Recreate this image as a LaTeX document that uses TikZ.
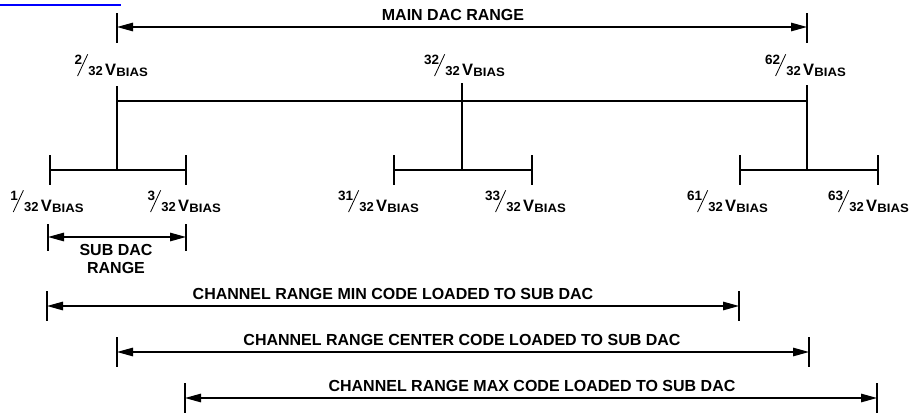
\documentclass[tikz,border=0pt]{standalone}
\usepackage{fontspec}
\setmainfont{Liberation Sans}
\usetikzlibrary{arrows.meta}
\newcommand{\fracslash}{\raisebox{-1.2pt}{\rotatebox{65}{\rule{24pt}{0.8pt}}}}
\newcommand{\vlab}[2]{%
  \kern5pt\llap{\raisebox{10.5pt}{\fontsize{13.5}{12}\selectfont #1}}\kern-5pt%
  \fracslash\kern0.3pt{\fontsize{13}{12}\selectfont #2}\kern2.4pt%
  {\fontsize{16.5}{16}\selectfont V}\kern0.2pt%
  \raisebox{-1.8pt}{\scalebox{1.08}[1]{\fontsize{12.2}{12}\selectfont BIAS}}}
\begin{document}
\begin{tikzpicture}[x=1pt,y=-1pt,
  ln/.style={line width=1.3pt},
  dimarrow/.style={line width=1.3pt,{Triangle[length=16pt,width=8.5pt]}-{Triangle[length=16pt,width=8.5pt]}},
  captxt/.style={font=\bfseries\fontsize{16}{18}\selectfont,inner sep=0pt},
  vl/.style={font=\bfseries,inner sep=0pt,anchor=base west}]
\useasboundingbox (0,0) rectangle (911,415);
% hyperlink underline
\coordinate (bl1) at (0,4.5); \coordinate (bl2) at (121,4.5);
\draw[blue,line width=2pt] (bl1) -- (bl2);
% main DAC range
\coordinate (mLt) at (117,13); \coordinate (mLb) at (117,43);
\coordinate (mRt) at (807,13); \coordinate (mRb) at (807,43);
\coordinate (mL) at (117,27); \coordinate (mR) at (807,27);
\draw[ln] (mLt) -- (mLb); \draw[ln] (mRt) -- (mRb);
\draw[dimarrow] (mL) -- (mR);
\node[captxt] (mainlbl) at (453,15) {MAIN DAC RANGE};
% top labels
\node[vl] (t2) at (77,75) {\vlab{2}{32}};
\node[vl] (t32) at (434,75) {\vlab{32}{32}};
\node[vl] (t62) at (775,75) {\vlab{62}{32}};
% tree
\coordinate (aT) at (117,86); \coordinate (aB) at (117,170);
\coordinate (bT) at (462,83); \coordinate (bB) at (462,170);
\coordinate (cT) at (807,85); \coordinate (cB) at (807,170);
\coordinate (hL) at (117,101); \coordinate (hR) at (807,101);
\draw[ln] (aT) -- (aB); \draw[ln] (bT) -- (bB); \draw[ln] (cT) -- (cB);
\draw[ln] (hL) -- (hR);
% sub brackets
\foreach \l/\r/\n in {50/186/a,394/532/b,740/878/c}{
  \coordinate (\n l) at (\l,170); \coordinate (\n r) at (\r,170);
  \coordinate (\n lt) at (\l,155); \coordinate (\n lb) at (\l,185);
  \coordinate (\n rt) at (\r,155); \coordinate (\n rb) at (\r,185);
  \draw[ln] (\n l) -- (\n r);
  \draw[ln] (\n lt) -- (\n lb);
  \draw[ln] (\n rt) -- (\n rb);
}
% sub labels
\node[vl] (s1) at (12.7,211) {\vlab{1}{32}};
\node[vl] (s3) at (150,211) {\vlab{3}{32}};
\node[vl] (s31) at (348,211) {\vlab{31}{32}};
\node[vl] (s33) at (495,211) {\vlab{33}{32}};
\node[vl] (s61) at (697,211) {\vlab{61}{32}};
\node[vl] (s63) at (838,211) {\vlab{63}{32}};
% sub DAC range
\coordinate (sdLt) at (48,224); \coordinate (sdLb) at (48,251);
\coordinate (sdRt) at (186,224); \coordinate (sdRb) at (186,251);
\coordinate (sdL) at (48,237); \coordinate (sdR) at (186,237);
\draw[ln] (sdLt) -- (sdLb); \draw[ln] (sdRt) -- (sdRb);
\draw[dimarrow] (sdL) -- (sdR);
\node[captxt,align=center] (sublbl) at (116,259) {SUB DAC\\RANGE};
% channel ranges
\foreach \l/\r/\y/\tx/\n/\t in {
  47/739/306/393/mn/{CHANNEL RANGE MIN CODE LOADED TO SUB DAC},
  117/809/352/462/ct/{CHANNEL RANGE CENTER CODE LOADED TO SUB DAC},
  185/877/398/532/mx/{CHANNEL RANGE MAX CODE LOADED TO SUB DAC}}{
  \coordinate (\n L) at (\l,\y); \coordinate (\n R) at (\r,\y);
  \coordinate (\n Lt) at (\l,\y-15); \coordinate (\n Lb) at (\l,\y+15);
  \coordinate (\n Rt) at (\r,\y-15); \coordinate (\n Rb) at (\r,\y+15);
  \draw[ln] (\n Lt) -- (\n Lb); \draw[ln] (\n Rt) -- (\n Rb);
  \draw[dimarrow] (\n L) -- (\n R);
  \node[captxt] (\n lbl) at (\tx,\y-12) {\t};
}
\end{tikzpicture}
\end{document}
